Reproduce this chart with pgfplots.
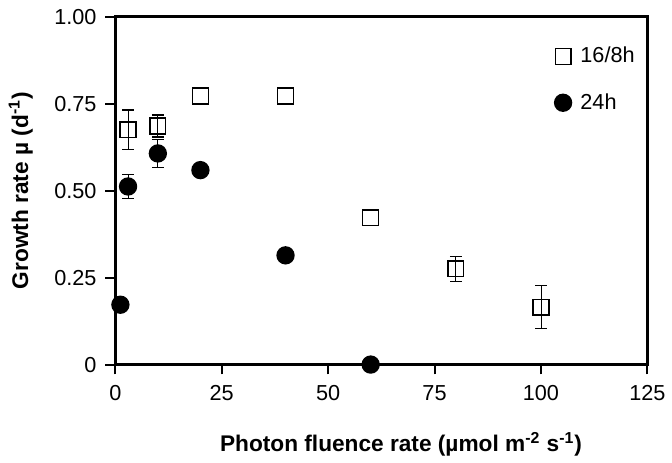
\documentclass[border=0pt]{standalone}
\usepackage{pgfplots}
\pgfplotsset{compat=1.18}
\usepackage{fontspec}
\setmainfont{Liberation Sans}
\begin{document}
\begin{tikzpicture}[x=1pt,y=1pt]
\path (0,0) rectangle (336,231.5);
\begin{axis}[
  at={(58.5pt,46.5pt)}, anchor=south west,
  scale only axis, width=270pt, height=176.5pt,
  xmin=0, xmax=125, ymin=0, ymax=1,
  xtick={0,25,50,75,100,125},
  ytick={0,0.25,0.5,0.75,1},
  yticklabels={0,0.25,0.50,0.75,1.00},
  /pgf/number format/assume math mode=true,
  tick align=outside, major tick length=5pt,
  xtick pos=bottom, ytick pos=left,
  tick style={line width=1pt, black},
  axis line style={line width=1.3pt, draw=black},
  ticklabel style={font=\fontsize{11}{13}\selectfont},
  xticklabel style={yshift=-2pt},
  yticklabel style={xshift=-1pt},
  xlabel={\textbf{Photon fluence rate (µmol m\textsuperscript{-2} s\textsuperscript{-1})}},
  ylabel={\textbf{Growth rate µ (d\textsuperscript{-1})}},
  label style={font=\fontsize{11.5}{13}\selectfont},
  xlabel style={xshift=10pt, yshift=-9pt},
  ylabel style={yshift=4pt},
  clip=false,
  legend style={draw=none, fill=none, at={(rel axis cs:0.825,0.925)}, anchor=north west,
    font=\fontsize{11}{13}\selectfont, row sep=10pt, inner sep=0pt, nodes={inner xsep=4.5pt}},
  legend cell align=left,
]
\draw[line width=1.3pt, black] (rel axis cs:0,0) rectangle (rel axis cs:1,1);
\addplot[only marks, mark=square, mark size=4pt, mark options={line width=0.7pt, fill=white, draw=black}, black, line width=0.7pt,
  error bars/.cd, y dir=both, y explicit, error mark options={rotate=90, mark size=3pt, line width=0.7pt}]
  coordinates {
  (3,0.675) +- (0,0.057)
  (10,0.686) +- (0,0.032)
  (20,0.772)
  (40,0.772)
  (60,0.422)
  (80,0.275) +- (0,0.036)
  (100,0.165) +- (0,0.062)
  };
\addlegendentry{16/8h}
\addplot[only marks, mark=*, mark size=4.3pt, mark options={fill=black, draw=black}, black, line width=0.7pt,
  error bars/.cd, y dir=both, y explicit, error mark options={rotate=90, mark size=3pt, line width=0.7pt}]
  coordinates {
  (1.2,0.172)
  (3,0.512) +- (0,0.035)
  (10,0.607) +- (0,0.04)
  (20,0.559)
  (40,0.314)
  (60,0)
  };
\addlegendentry{24h}
\end{axis}
\end{tikzpicture}
\end{document}
